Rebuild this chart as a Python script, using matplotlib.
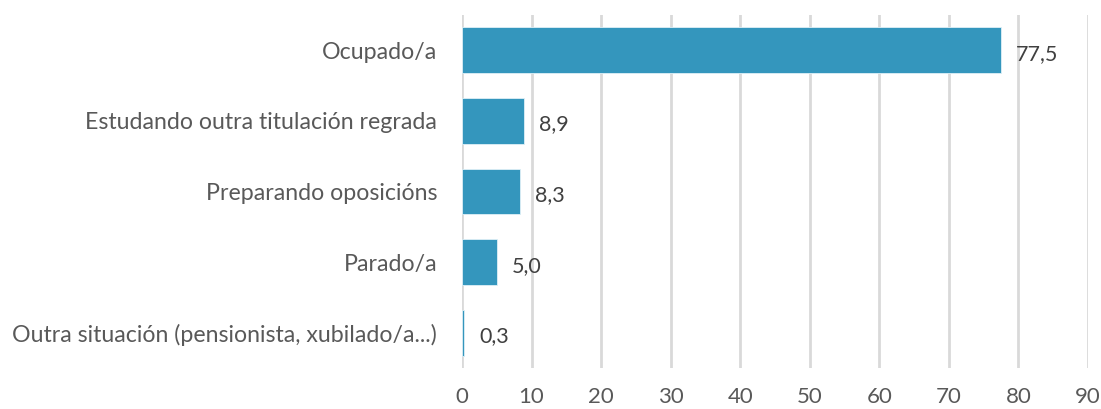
import matplotlib
matplotlib.use("Agg")
import matplotlib.pyplot as plt

categories = ["Ocupado/a", "Estudando outra titulación regrada", "Preparando oposicións",
              "Parado/a", "Outra situación (pensionista, xubilado/a...)"]
values = [77.5, 8.9, 8.3, 5.0, 0.3]
xticks = [0, 10, 20, 30, 40, 50, 60, 70, 80, 90]

plt.rcParams['font.family'] = ['Lato', 'DejaVu Sans']

fig = plt.figure(figsize=(11.01, 4.09), dpi=100)
ax = fig.add_axes([462/1101, 1-368/409, 626/1101, 353/409])

y = list(range(len(categories)))
ax.barh(y, values, height=0.65, color="#3496BD", edgecolor="#dff0f7", linewidth=0.6, zorder=3)
for yi, v in zip(y, values):
    ax.text(v + 2.2, yi + 0.05, f"{v:.1f}".replace(".", ","), va="center", ha="left",
            fontsize=15.5, color="#404040")

ax.set_xlim(0, 90)
ax.set_ylim(len(categories) - 0.5, -0.5)
ax.set_yticks(y)
ax.set_yticklabels(categories, fontsize=16.7, color="#595959")
ax.set_xticks(xticks)
ax.set_xticklabels([str(t) for t in xticks], fontsize=16, color="#595959")
ax.tick_params(axis='both', length=0)
ax.tick_params(axis='y', pad=18)
ax.tick_params(axis='x', pad=14)
ax.grid(axis='x', color="#d9d9d9", linewidth=2, zorder=0)
for s in ax.spines.values():
    s.set_visible(False)

fig.savefig("out.png", dpi=100)
